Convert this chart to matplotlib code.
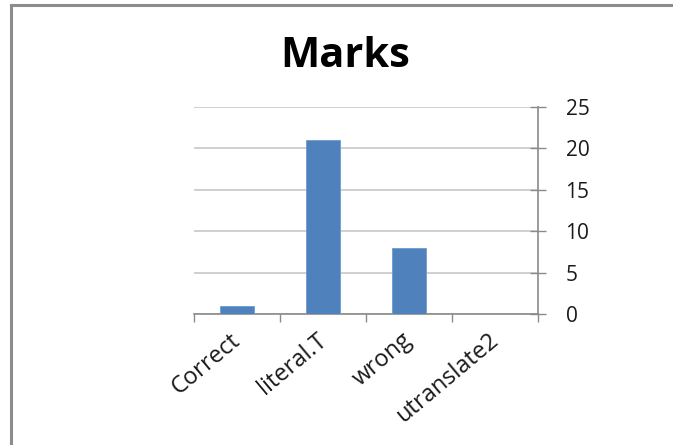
import matplotlib.pyplot as plt
from matplotlib.lines import Line2D

# Marks per answer category
categories = ["Correct", "literal.T", "wrong", "utranslate2"]
marks = [1, 21, 8, 0]
y_ticks = [0, 5, 10, 15, 20, 25]

plt.rcParams['font.family'] = ['Open Sans', 'DejaVu Sans']

fig = plt.figure(figsize=(6.73, 4.45), dpi=100)
ax = fig.add_axes([0.288, 0.294, 0.511, 0.466])

x = range(len(categories))
ax.bar(x, marks, width=0.39, color="#4f81bd", edgecolor="#6f9bd0", linewidth=0.6, zorder=3)

ax.set_xlim(-0.5, len(categories) - 0.5)
ax.set_ylim(0, 25)

# y axis on the right, Excel-like crossing ticks
ax.yaxis.tick_right()
ax.set_yticks(y_ticks)
ax.set_yticklabels([str(v) for v in y_ticks], fontsize=15, color="#1a1a1a")
ax.tick_params(axis='y', direction='inout', length=12, width=1, color="#8a8a8a", pad=14)
ax.grid(axis='y', color="#c8c8c8", linewidth=1.2, zorder=0)

# category boundaries get the x ticks, names sit between them
ax.set_xticks([i - 0.5 for i in range(len(categories) + 1)])
ax.set_xticklabels([])
ax.tick_params(axis='x', direction='out', length=6, width=1, color="#8a8a8a")
for i, name in enumerate(categories):
    ax.text(i - 0.08, -1.7, name, rotation=40, ha='right', va='top',
            rotation_mode='anchor', fontsize=17, color="#1a1a1a")

for side in ("left", "top"):
    ax.spines[side].set_visible(False)
for side in ("right", "bottom"):
    ax.spines[side].set_color("#8a8a8a")
    ax.spines[side].set_linewidth(1.2)

fig.text(0.513, 0.872, "Marks", ha='center', va='center', fontsize=30, fontweight='bold')

# gray frame on the left and top edges
fy = 1 - 5 / 445
fx = 11 / 673
fig.add_artist(Line2D([fx, fx], [0, fy], color="#8c8c8c", linewidth=2.2))
fig.add_artist(Line2D([fx, 1], [fy, fy], color="#8c8c8c", linewidth=2.2))

fig.savefig("out.png", dpi=100)
